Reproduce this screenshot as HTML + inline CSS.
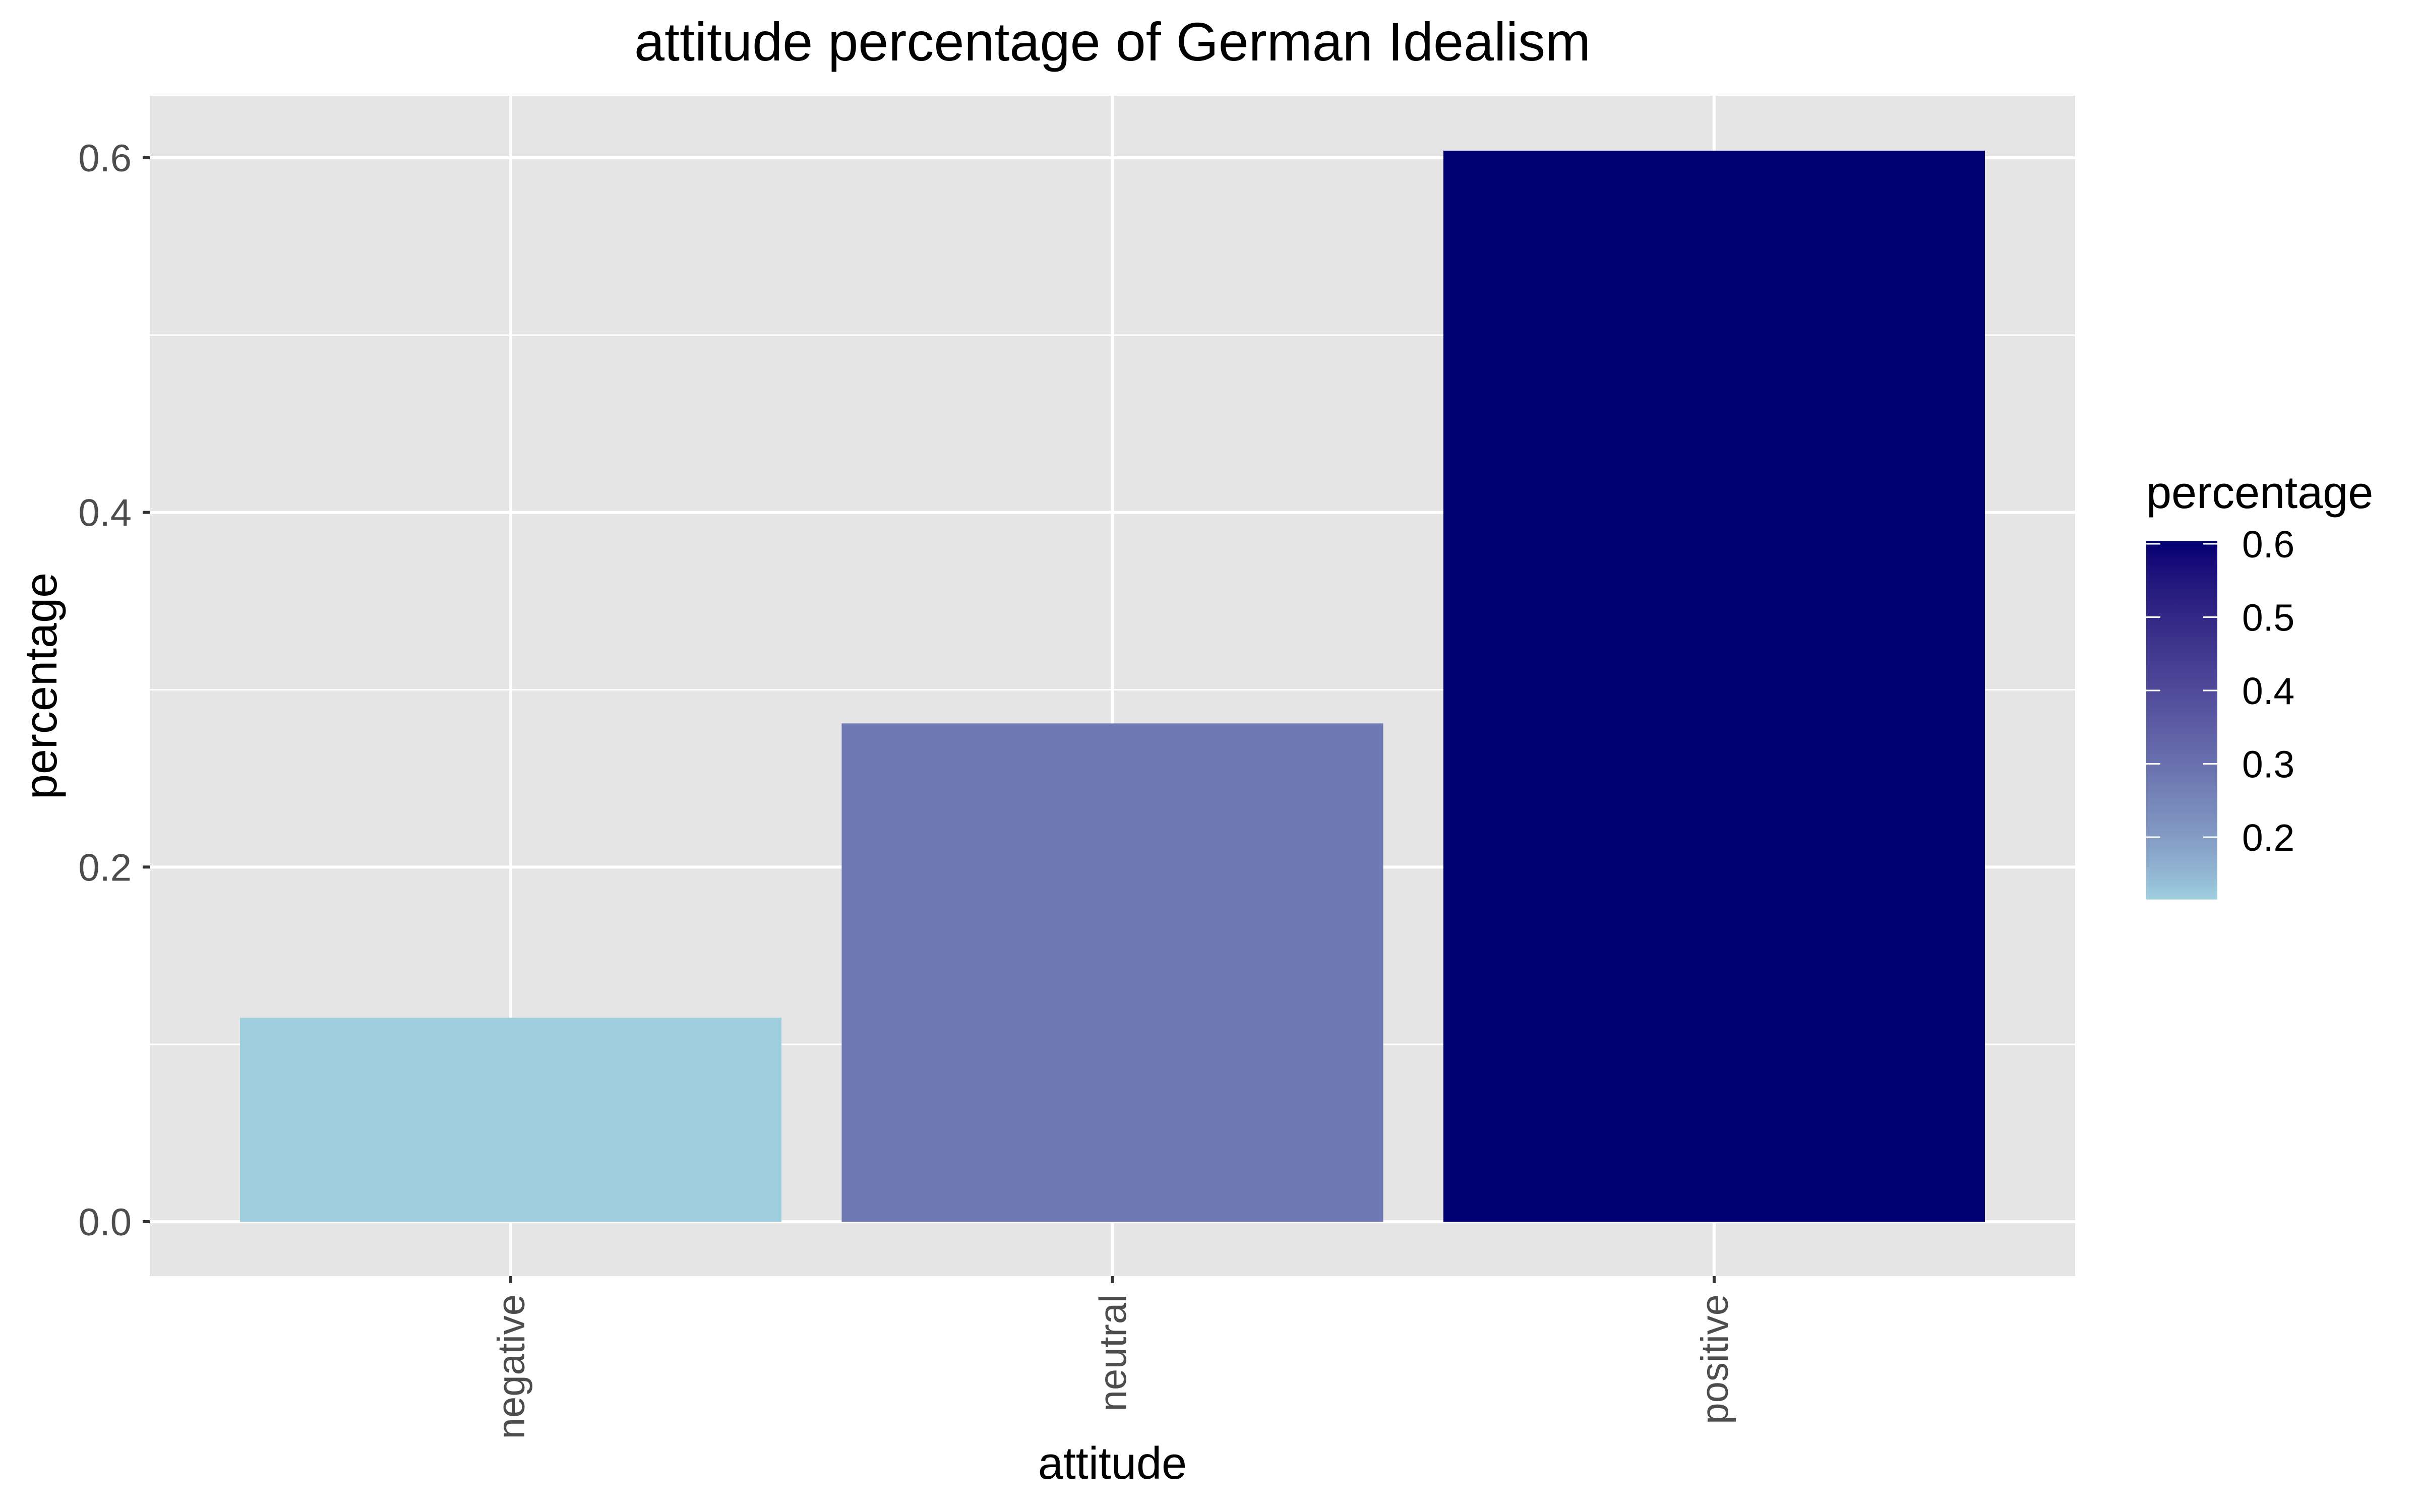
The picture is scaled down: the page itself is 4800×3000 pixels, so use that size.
<!DOCTYPE html>
<html><head><meta charset="utf-8"><style>
html,body{margin:0;padding:0;background:#fff;}
svg{display:block;font-family:"Liberation Sans",Arial,sans-serif;}
</style></head><body>
<svg id="chart" width="4800" height="3000" viewBox="0 0 4800 3000" xmlns="http://www.w3.org/2000/svg"></svg>
<script>
const categories = ["negative","neutral","positive"];
const values = [0.115,0.281,0.604];
const yTicks = [0,0.2,0.4,0.6];
const yMinor = [0.1,0.3,0.5];
const legendTicks = [0.2,0.3,0.4,0.5,0.6];

const NS="http://www.w3.org/2000/svg";
const svg=document.getElementById('chart');
function mk(tag,attrs,parent){const e=document.createElementNS(NS,tag);for(const k in attrs)e.setAttribute(k,attrs[k]);(parent||svg).appendChild(e);return e;}

const P={l:297,r:4116,t:190,b:2532};
const y0=2424, yScale=(2424-313)/0.6;
function y(v){return y0-v*yScale;}
const unit=(P.r-P.l)/(categories.length-1+1.2);
function xc(i){return P.l+unit*(0.6+i);}
const barW=unit*0.9;

// colour (Lab interpolation)
function hex2rgb(h){return [1,3,5].map(i=>parseInt(h.substr(i,2),16)/255);}
function lin(c){return c<=0.04045?c/12.92:Math.pow((c+0.055)/1.055,2.4);}
function delin(c){return c<=0.0031308?12.92*c:1.055*Math.pow(c,1/2.4)-0.055;}
function toLab(h){const [r,g,b]=hex2rgb(h).map(lin);
 let X=(0.4124*r+0.3576*g+0.1805*b)/0.95047,Y=0.2126*r+0.7152*g+0.0722*b,Z=(0.0193*r+0.1192*g+0.9505*b)/1.08883;
 const f=t=>t>0.008856?Math.cbrt(t):7.787*t+16/116;return [116*f(Y)-16,500*(f(X)-f(Y)),200*(f(Y)-f(Z))];}
function fromLab(L){const fy=(L[0]+16)/116,fx=fy+L[1]/500,fz=fy-L[2]/200;
 const fi=t=>t*t*t>0.008856?t*t*t:(t-16/116)/7.787;
 const X=fi(fx)*0.95047,Y=fi(fy),Z=fi(fz)*1.08883;
 let r=3.2406*X-1.5372*Y-0.4986*Z,g=-0.9689*X+1.8758*Y+0.0415*Z,b=0.0557*X-0.2040*Y+1.0570*Z;
 return '#'+[r,g,b].map(c=>Math.round(Math.max(0,Math.min(1,delin(c)))*255).toString(16).padStart(2,'0')).join('');}
const lowLab=toLab('#9FCFDF'),highLab=toLab('#000072');
const vmin=Math.min(...values),vmax=Math.max(...values);
function col(v){const t=Math.pow((v-vmin)/(vmax-vmin),0.83);return fromLab(lowLab.map((a,i)=>a+(highLab[i]-a)*t));}

// title
const t=mk('text',{x:(P.l+P.r)/2,y:120,'font-size':108,'text-anchor':'middle',fill:'#000'});t.textContent='attitude percentage of German Idealism';



// panel
const panel=mk('rect',{x:P.l,y:P.t,width:P.r-P.l,height:P.b-P.t,fill:'#e5e5e5'});


yMinor.forEach(v=>{const l=mk('line',{x1:P.l,x2:P.r,y1:y(v),y2:y(v),stroke:'#fff','stroke-width':3});
 
 });
yTicks.forEach(v=>{const l=mk('line',{x1:P.l,x2:P.r,y1:y(v),y2:y(v),stroke:'#fff','stroke-width':6});
 
 
 const tk=mk('line',{x1:P.l-14,x2:P.l,y1:y(v),y2:y(v),stroke:'#333','stroke-width':6});
 
 
 const tl=mk('text',{x:261,y:y(v)+27,'font-size':76,'text-anchor':'end',fill:'#4d4d4d'});tl.textContent=v.toFixed(1);
 
 });
categories.forEach((c,i)=>{const l=mk('line',{x1:xc(i),x2:xc(i),y1:P.t,y2:P.b,stroke:'#fff','stroke-width':6});
 
 });
categories.forEach((c,i)=>{
 const r=mk('rect',{x:xc(i)-barW/2,y:y(values[i]),width:barW,height:y(0)-y(values[i]),fill:col(values[i])});
 
 
 const tk=mk('line',{x1:xc(i),x2:xc(i),y1:P.b,y2:P.b+14,stroke:'#333','stroke-width':6});
 
 
 const tl=mk('text',{x:0,y:0,'font-size':76,'text-anchor':'end',fill:'#4d4d4d',transform:`translate(${xc(i)+27},${P.b+36}) rotate(-90)`});tl.textContent=c;
 
 });

// axis titles
const xt=mk('text',{x:(P.l+P.r)/2,y:2934,'font-size':90,'text-anchor':'middle',fill:'#000'});xt.textContent='attitude';


const yt=mk('text',{x:0,y:0,'font-size':90,'text-anchor':'middle',fill:'#000',transform:`translate(112,${(P.t+P.b)/2}) rotate(-90)`});yt.textContent='percentage';



// legend
const L={x:4257,w:141};
const ly0=1661, lyScale=(1661-1079)/0.4;
function ly(v){return ly0-(v-0.2)*lyScale;}
const lt=mk('text',{x:L.x,y:1008,'font-size':90,fill:'#000'});lt.textContent='percentage';


const defs=mk('defs',{});
const g=mk('linearGradient',{id:'lg',x1:0,y1:1,x2:0,y2:0},defs);
for(let k=0;k<=20;k++){mk('stop',{offset:k/20,'stop-color':col(vmin+(vmax-vmin)*k/20)},g);}
const cb=mk('rect',{x:L.x,y:ly(vmax),width:L.w,height:ly(vmin)-ly(vmax),fill:'url(#lg)'});


legendTicks.forEach(v=>{
 [[L.x,L.x+28],[L.x+L.w-28,L.x+L.w]].forEach(p=>{const l=mk('line',{x1:p[0],x2:p[1],y1:ly(v),y2:ly(v),stroke:'#fff','stroke-width':3});
  
  });
 const tl=mk('text',{x:4447,y:ly(v)+27,'font-size':75,fill:'#000'});tl.textContent=v.toFixed(1);
 
 });
</script>
</body></html>
